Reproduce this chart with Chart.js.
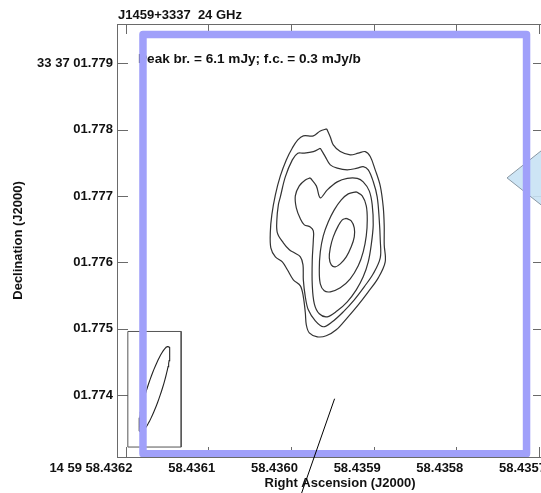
<!DOCTYPE html>
<html>
<head>
<meta charset="utf-8">
<script src="https://cdn.jsdelivr.net/npm/chart.js@4.4.1/dist/chart.umd.min.js"></script>
<style>
  html, body { margin: 0; padding: 0; background: #fff; overflow: hidden; }
  canvas { display: block; }
</style>
</head>
<body>
<canvas id="map" width="560" height="493"></canvas>
<script>
// Field and map annotation
const FIELD = 'J1459+3337  24 GHz';
const PEAK_NOTE = 'Peak br. = 6.1 mJy; f.c. = 0.3 mJy/b';
const RA_TITLE = 'Right Ascension (J2000)';
const DEC_TITLE = 'Declination (J2000)';

// Axis ticks: RA seconds (14h59m) and Dec arcsec (+33d37m)
const raTicks = [58.4362, 58.4361, 58.4360, 58.4359, 58.4358, 58.4357];
const decTicks = [1.779, 1.778, 1.777, 1.776, 1.775, 1.774];
const raRange = [58.4356952, 58.4362091];
const decRange = [1.773072, 1.779588];

// Contour levels, outermost first (RA s, Dec arcsec)
const c1Ra = [58.4359566, 58.4359524, 58.4359488, 58.4359403, 58.4359283, 58.4359186, 58.4359101, 58.4359041, 58.4358981, 58.4358920, 58.4358884, 58.4358872, 58.4358872, 58.4358860, 58.4358944, 58.4359065, 58.4359186, 58.4359319, 58.4359452, 58.4359573, 58.4359681, 58.4359778, 58.4359814, 58.4359826, 58.4359850, 58.4359886, 58.4359971, 58.4360043, 58.4360104, 58.4360188, 58.4360243, 58.4360249, 58.4360231, 58.4360188, 58.4360128, 58.4360056, 58.4359983, 58.4359917, 58.4359850, 58.4359729, 58.4359645, 58.4359566];
const c1Dec = [1.778009, 1.777889, 1.777769, 1.777668, 1.777618, 1.777644, 1.777668, 1.777593, 1.777393, 1.777152, 1.776836, 1.776550, 1.776265, 1.776009, 1.775768, 1.775558, 1.775362, 1.775167, 1.774986, 1.774896, 1.774881, 1.774941, 1.775062, 1.775242, 1.775483, 1.775648, 1.775738, 1.775889, 1.776009, 1.776084, 1.776220, 1.776460, 1.776716, 1.777017, 1.777302, 1.777543, 1.777723, 1.777844, 1.777904, 1.777904, 1.777979, 1.778009];

const c2Ra = [58.4359645, 58.4359585, 58.4359524, 58.4359440, 58.4359319, 58.4359198, 58.4359126, 58.4359065, 58.4359005, 58.4358957, 58.4358932, 58.4358920, 58.4358920, 58.4359005, 58.4359114, 58.4359234, 58.4359367, 58.4359500, 58.4359609, 58.4359705, 58.4359790, 58.4359826, 58.4359850, 58.4359854, 58.4359886, 58.4359959, 58.4360019, 58.4360092, 58.4360164, 58.4360170, 58.4360152, 58.4360128, 58.4360068, 58.4359983, 58.4359917, 58.4359850, 58.4359729, 58.4359645];
const c2Dec = [1.777719, 1.777593, 1.777468, 1.777418, 1.777393, 1.777418, 1.777442, 1.777393, 1.777217, 1.776986, 1.776641, 1.776340, 1.776069, 1.775829, 1.775633, 1.775438, 1.775257, 1.775107, 1.775032, 1.775122, 1.775287, 1.775483, 1.775738, 1.775964, 1.776084, 1.776144, 1.776190, 1.776295, 1.776445, 1.776641, 1.776866, 1.776986, 1.777287, 1.777543, 1.777644, 1.777644, 1.777668, 1.777719];

const c3Ra = [58.4359766, 58.4359693, 58.4359645, 58.4359560, 58.4359440, 58.4359319, 58.4359198, 58.4359126, 58.4359053, 58.4359017, 58.4359005, 58.4359029, 58.4359065, 58.4359126, 58.4359210, 58.4359319, 58.4359440, 58.4359560, 58.4359657, 58.4359717, 58.4359742, 58.4359742, 58.4359729, 58.4359729, 58.4359766, 58.4359838, 58.4359886, 58.4359935, 58.4359947, 58.4359899, 58.4359826, 58.4359766];
const c3Dec = [1.777272, 1.777152, 1.776971, 1.777092, 1.777212, 1.777265, 1.777265, 1.777212, 1.777077, 1.776866, 1.776565, 1.776265, 1.776009, 1.775783, 1.775588, 1.775407, 1.775272, 1.775182, 1.775227, 1.775377, 1.775663, 1.776039, 1.776340, 1.776475, 1.776535, 1.776565, 1.776656, 1.776821, 1.777002, 1.777152, 1.777242, 1.777272];

const c4Ra = [58.4359210, 58.4359138, 58.4359089, 58.4359077, 58.4359089, 58.4359126, 58.4359186, 58.4359283, 58.4359403, 58.4359524, 58.4359597, 58.4359645, 58.4359657, 58.4359645, 58.4359609, 58.4359548, 58.4359476, 58.4359391, 58.4359307, 58.4359210];
const c4Dec = [1.777062, 1.777002, 1.776851, 1.776641, 1.776400, 1.776159, 1.775949, 1.775753, 1.775618, 1.775558, 1.775573, 1.775678, 1.775889, 1.776159, 1.776400, 1.776611, 1.776791, 1.776941, 1.777032, 1.777062];

const c5Ra = [58.4359331, 58.4359271, 58.4359234, 58.4359234, 58.4359271, 58.4359331, 58.4359403, 58.4359464, 58.4359512, 58.4359536, 58.4359524, 58.4359488, 58.4359428, 58.4359379, 58.4359331];
const c5Dec = [1.776663, 1.776626, 1.776520, 1.776385, 1.776235, 1.776084, 1.775979, 1.775934, 1.775964, 1.776069, 1.776220, 1.776385, 1.776550, 1.776641, 1.776663];

// Restoring beam (mas, deg) and its box
const beamCenter = [58.4361650, 1.774092];
const beamAxes = [1.35, 0.22];
const beamPA = -18;
const beamBoxRa = [58.4361972, 58.4361327];
const beamBoxDec = [1.774961, 1.773222];

// Highlight frame, marker and pointer line
const boxRa = [58.4361789, 58.4357151];
const boxDec = [1.779430, 1.773122];
const markRa = [58.4357387, 58.4356747, 58.4356106];
const markDec = [1.777904, 1.777272, 1.776641];
const pointerRa = [58.4359472, 58.4359886];
const pointerDec = [1.773949, 1.772475];

const zip = (xs, ys) => xs.map((x, i) => ({ x, y: ys[i] }));

const COS_DEC = Math.cos((33 + 37 / 60) * Math.PI / 180);
function beamOutline() {
  const pts = [];
  const a = beamAxes[0] / 2, b = beamAxes[1] / 2, pa = beamPA * Math.PI / 180;
  for (let k = 0; k <= 72; k++) {
    const t = k / 72 * 2 * Math.PI;
    const u = a * Math.cos(t), v = b * Math.sin(t);
    const dN = u * Math.cos(pa) - v * Math.sin(pa);
    const dE = u * Math.sin(pa) + v * Math.cos(pa);
    pts.push({ x: beamCenter[0] + dE * 0.001 / (15 * COS_DEC), y: beamCenter[1] + dN * 0.001 });
  }
  return pts;
}

const rectPts = (xs, ys) => [
  { x: xs[0], y: ys[0] }, { x: xs[1], y: ys[0] }, { x: xs[1], y: ys[1] },
  { x: xs[0], y: ys[1] }, { x: xs[0], y: ys[0] }
];

const FONT = '"Liberation Sans", Arial, Helvetica, sans-serif';
const INK = '#111';

const contour = (data) => ({
  data, showLine: true, pointRadius: 0, pointHoverRadius: 0,
  borderColor: '#333', borderWidth: 1.2, tension: 0.35, fill: false, order: 5
});

const mapFrame = {
  id: 'mapFrame',
  beforeDatasetsDraw(chart) {
    const { ctx, chartArea: a, scales: { x, y } } = chart;
    ctx.save();
    ctx.strokeStyle = '#6a6a6a';
    ctx.lineWidth = 1;
    ctx.strokeRect(a.left - 0.5, a.top + 0.5, a.right - a.left, a.bottom - a.top);
    const L = 10;
    ctx.beginPath();
    raTicks.forEach(v => {
      const px = Math.round(x.getPixelForValue(v)) + 0.5;
      ctx.moveTo(px, a.top); ctx.lineTo(px, a.top + L);
      ctx.moveTo(px, a.bottom); ctx.lineTo(px, a.bottom - L);
    });
    decTicks.forEach(v => {
      const py = Math.round(y.getPixelForValue(v)) + 0.5;
      ctx.moveTo(a.left, py); ctx.lineTo(a.left + L, py);
      ctx.moveTo(a.right, py); ctx.lineTo(a.right - L, py);
    });
    ctx.stroke();

    ctx.fillStyle = INK;
    ctx.textBaseline = 'alphabetic';
    ctx.textAlign = 'left';
    ctx.font = 'bold 13px ' + FONT;
    ctx.fillText(FIELD, a.left, a.top - 5);
    ctx.font = 'bold 13.6px ' + FONT;
    ctx.fillText(PEAK_NOTE, a.left + 20, a.top + 39);
    ctx.font = 'bold 13px ' + FONT;
    ctx.textAlign = 'center';
    ctx.fillText(RA_TITLE, a.left + 222, a.bottom + 30);
    ctx.restore();
  }
};

const tickFont = { family: FONT, size: 13, weight: 'bold' };

new Chart(document.getElementById('map'), {
  type: 'scatter',
  data: {
    datasets: [
      { data: zip(pointerRa, pointerDec), showLine: true, pointRadius: 0, borderColor: '#000', borderWidth: 1, tension: 0, clip: false, order: 0 },
      { data: rectPts(boxRa, boxDec), showLine: true, pointRadius: 0, borderColor: '#a0a0fa', borderWidth: 7.5, tension: 0, borderJoinStyle: 'round', borderCapStyle: 'round', order: 1 },
      { data: [{ x: markRa[0], y: markDec[1] }, { x: markRa[1], y: markDec[0] }, { x: markRa[2], y: markDec[1] }, { x: markRa[1], y: markDec[2] }, { x: markRa[0], y: markDec[1] }],
        showLine: true, pointRadius: 0, borderColor: '#8a98a4', borderWidth: 1, tension: 0, fill: 'shape', backgroundColor: 'rgba(200,226,244,0.9)', order: 2 },
      { data: rectPts(beamBoxRa, beamBoxDec), showLine: true, pointRadius: 0, borderColor: '#555', borderWidth: 1, tension: 0, order: 4 },
      { data: beamOutline(), showLine: true, pointRadius: 0, borderColor: '#222', borderWidth: 1.1, tension: 0, order: 4 },
      contour(zip(c1Ra, c1Dec)),
      contour(zip(c2Ra, c2Dec)),
      contour(zip(c3Ra, c3Dec)),
      contour(zip(c4Ra, c4Dec)),
      contour(zip(c5Ra, c5Dec))
    ]
  },
  options: {
    responsive: false,
    animation: false,
    events: [],
    layout: { padding: { top: 24, right: 17, left: 0, bottom: 0 } },
    plugins: { legend: { display: false }, tooltip: { enabled: false } },
    scales: {
      x: {
        type: 'linear', reverse: true, min: raRange[0], max: raRange[1],
        afterBuildTicks: s => { s.ticks = raTicks.map(v => ({ value: v })); },
        afterFit: s => { s.height = 36; },
        grid: { display: false, drawTicks: false },
        border: { display: false },
        ticks: {
          autoSkip: false, maxRotation: 0, align: 'end', labelOffset: 7, padding: 4,
          color: INK, font: tickFont,
          callback: (v, i) => (i === 0 ? '14 59 ' : '') + Number(v).toFixed(4)
        }
      },
      y: {
        type: 'linear', min: decRange[0], max: decRange[1],
        afterBuildTicks: s => { s.ticks = decTicks.map(v => ({ value: v })); },
        afterFit: s => { s.width = 118; },
        grid: { display: false, drawTicks: false },
        border: { display: false },
        ticks: {
          autoSkip: false, padding: 5, color: INK, font: tickFont,
          callback: (v, i) => (i === 0 ? '33 37 ' : '') + '0' + Number(v).toFixed(3)
        },
        title: { display: true, text: DEC_TITLE, color: INK, font: tickFont, padding: { top: 11, bottom: 0 } }
      }
    }
  },
  plugins: [mapFrame]
});
</script>
</body>
</html>
